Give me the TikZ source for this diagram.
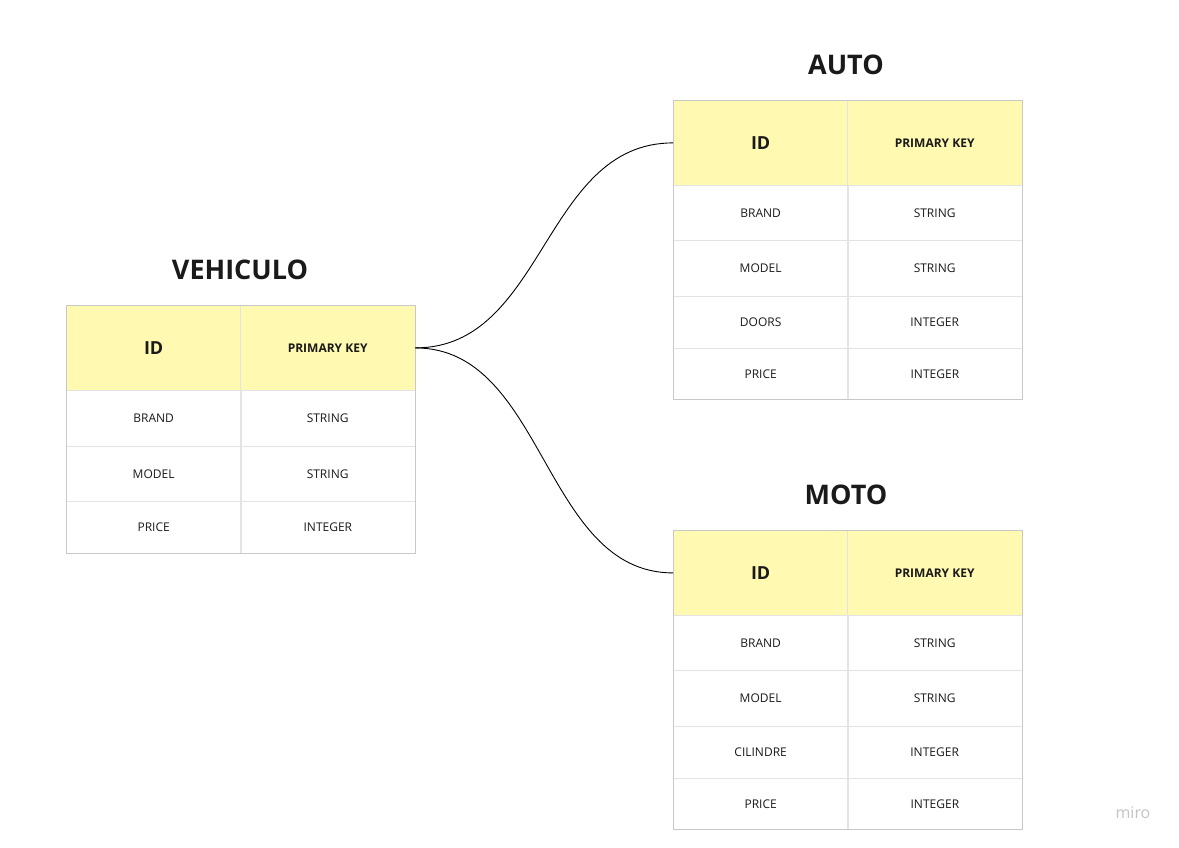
\documentclass[tikz,border=0pt]{standalone}
\usepackage{fontspec}
\setmainfont{Open Sans}
\begin{document}
\begin{tikzpicture}[x=1pt,y=-1pt,
  cell/.style={draw=gridline,line width=0.8pt,minimum width=174.5pt,inner sep=0pt,anchor=north west,font=\fontsize{12}{14}\selectfont,text=txt},
  head/.style={cell,fill=hdr,minimum height=85pt},
  idtxt/.style={font=\fontsize{18}{20}\selectfont\bfseries},
  pktxt/.style={font=\fontsize{12}{14}\selectfont\bfseries},
  outer/.style={draw=border,line width=1pt},
  title/.style={font=\fontsize{27}{31}\selectfont\bfseries,text=txt},
  link/.style={draw=black,line width=0.9pt}]
\definecolor{hdr}{HTML}{FFF9B1}
\definecolor{gridline}{HTML}{E3E3E3}
\definecolor{border}{HTML}{C8C8C8}
\definecolor{txt}{HTML}{1A1A1A}
\definecolor{mirogray}{HTML}{C4C4C4}
\useasboundingbox (0,0) rectangle (1179,847);
\fill[white] (0,0) rectangle (1179,847);

% VEHICULO
\node[title] (tv) at (240,270) {VEHICULO};
\node[head,idtxt] (v0a) at (66,305) {ID};
\node[head,pktxt] (v0b) at (240,305) {PRIMARY KEY};
\node[cell,minimum height=56pt] (v1a) at (66,390) {BRAND};
\node[cell,minimum height=56pt] (v1b) at (240,390) {STRING};
\node[cell,minimum height=55pt] (v2a) at (66,446) {MODEL};
\node[cell,minimum height=55pt] (v2b) at (240,446) {STRING};
\node[cell,minimum height=52pt] (v3a) at (66,501) {PRICE};
\node[cell,minimum height=52pt,minimum width=175pt] (v3b) at (240,501) {INTEGER};
\draw[outer] (v0a.north west) rectangle (v3b.south east);

% AUTO
\node[title] (ta) at (846,65) {AUTO};
\node[head,idtxt] (a0a) at (673,100) {ID};
\node[head,pktxt] (a0b) at (847,100) {PRIMARY KEY};
\node[cell,minimum height=55pt] (a1a) at (673,185) {BRAND};
\node[cell,minimum height=55pt] (a1b) at (847,185) {STRING};
\node[cell,minimum height=56pt] (a2a) at (673,240) {MODEL};
\node[cell,minimum height=56pt] (a2b) at (847,240) {STRING};
\node[cell,minimum height=52pt] (a3a) at (673,296) {DOORS};
\node[cell,minimum height=52pt] (a3b) at (847,296) {INTEGER};
\node[cell,minimum height=51pt] (a4a) at (673,348) {PRICE};
\node[cell,minimum height=51pt,minimum width=175pt] (a4b) at (847,348) {INTEGER};
\draw[outer] (a0a.north west) rectangle (a4b.south east);

% MOTO
\node[title] (tm) at (846,495) {MOTO};
\node[head,idtxt] (m0a) at (673,530) {ID};
\node[head,pktxt] (m0b) at (847,530) {PRIMARY KEY};
\node[cell,minimum height=55pt] (m1a) at (673,615) {BRAND};
\node[cell,minimum height=55pt] (m1b) at (847,615) {STRING};
\node[cell,minimum height=56pt] (m2a) at (673,670) {MODEL};
\node[cell,minimum height=56pt] (m2b) at (847,670) {STRING};
\node[cell,minimum height=52pt] (m3a) at (673,726) {CILINDRE};
\node[cell,minimum height=52pt] (m3b) at (847,726) {INTEGER};
\node[cell,minimum height=51pt] (m4a) at (673,778) {PRICE};
\node[cell,minimum height=51pt,minimum width=175pt] (m4b) at (847,778) {INTEGER};
\draw[outer] (m0a.north west) rectangle (m4b.south east);

% connectors
\draw[link] (v0b.east) .. controls +(130,0) and +(-130,0) .. (a0a.west);
\draw[link] (v0b.east) .. controls +(130,0) and +(-130,0) .. (m0a.west);

\node[font=\fontsize{16}{18}\selectfont,text=mirogray] (miro) at (1133,813) {miro};
\end{tikzpicture}
\end{document}
